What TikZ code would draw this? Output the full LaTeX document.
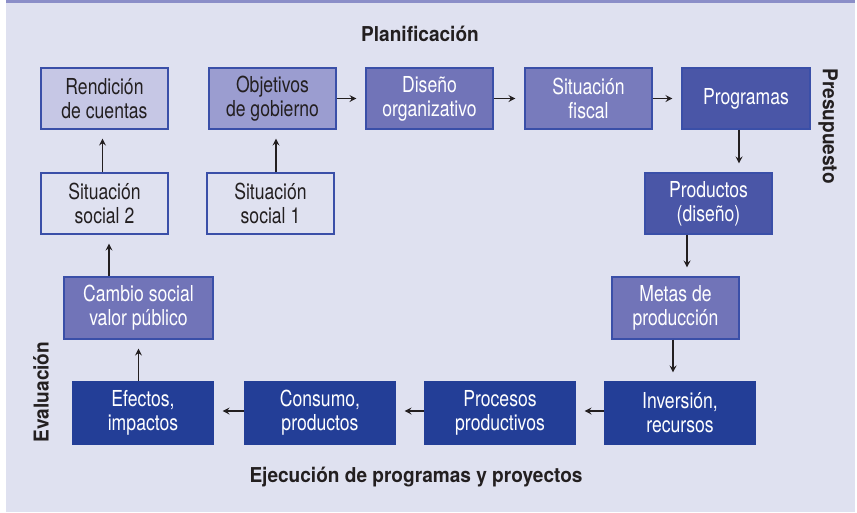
\documentclass[tikz,border=0pt]{standalone}
\usepackage{fontspec}
\setmainfont{TeX Gyre Heros}[FakeStretch=0.8]
\newfontfamily\rotulofont{TeX Gyre Heros}[FakeStretch=0.93]
\usetikzlibrary{arrows.meta}

\definecolor{fondo}{HTML}{DFE1F0}
\definecolor{barra}{HTML}{8B8EC8}
\definecolor{borde}{HTML}{3A4FA8}
\definecolor{linea}{HTML}{231F20}
\definecolor{azul1}{HTML}{C6C7E5}
\definecolor{azul2}{HTML}{9B9DD0}
\definecolor{azul3}{HTML}{7174B8}
\definecolor{azul4}{HTML}{4A56A7}
\definecolor{azul5}{HTML}{233E97}

\begin{document}
\begin{tikzpicture}[x=1pt, y=-1pt,
    caja/.style={draw=borde, line width=1.1pt, minimum width=127pt, minimum height=61pt,
      inner sep=0pt, align=center, font=\fontsize{22}{24}\selectfont},
    clara/.style={caja, text=linea},
    oscura/.style={caja, text=white},
    rotulo/.style={font=\rotulofont\fontsize{20.5}{23}\selectfont\bfseries, text=linea},
    flecha/.style={draw=linea, line width=1.1pt, shorten >=9pt,
      -{Stealth[length=7pt, width=7pt, inset=2.5pt]}}]

  \useasboundingbox (0,0) rectangle (857,512);
  \fill[fondo] (6,0) rectangle (855,512);
  \fill[barra] (6,0) rectangle (855,2.5);

  % Planificacion
  \node[clara, fill=azul1] (rend) at (104.5,98.5) {Rendición\\de cuentas};
  \node[clara, fill=azul2] (obj) at (272.5,98.5) {Objetivos\\de gobierno};
  \node[oscura, fill=azul3] (dis) at (429.5,98.5) {Diseño\\organizativo};
  \node[oscura, fill=azul3!95!white] (fis) at (588.5,98.5) {Situación\\fiscal};
  \node[oscura, fill=azul4, minimum width=128pt] (prog) at (746,98.5) {Programas};

  \node[clara, fill=fondo] (soc2) at (104.5,203.5) {Situación\\social 2};
  \node[clara, fill=fondo] (soc1) at (270.5,203.5) {Situación\\social 1};
  \node[oscura, fill=azul4] (prod) at (708.5,203.5) {Productos\\(diseño)};

  \node[oscura, fill=azul3, minimum width=149pt, minimum height=62pt] (cambio) at (138.5,308) {Cambio social\\valor público};
  \node[oscura, fill=azul3, minimum height=62pt] (metas) at (675.5,308) {Metas de\\producción};

  % Ejecucion
  \node[oscura, fill=azul5, draw=azul5, minimum width=140pt, minimum height=62pt] (efe) at (143,413) {Efectos,\\impactos};
  \node[oscura, fill=azul5, draw=azul5, minimum width=150pt, minimum height=62pt] (cons) at (320,413) {Consumo,\\productos};
  \node[oscura, fill=azul5, draw=azul5, minimum width=150pt, minimum height=62pt] (proc) at (500,413) {Procesos\\productivos};
  \node[oscura, fill=azul5, draw=azul5, minimum width=150pt, minimum height=62pt] (inv) at (680,413) {Inversión,\\recursos};

  % Rotulos
  \node[rotulo] (plan) at (420,34) {Planificación};
  \node[rotulo] (ejec) at (416,477) {Ejecución de programas y proyectos};
  \node[rotulo, rotate=-90] (pres) at (828,126) {Presupuesto};
  \node[rotulo, rotate=90] (eval) at (41,392) {Evaluación};

  % Flechas
  \draw[flecha] ([xshift=-2pt]soc2.north) -- ([xshift=-2pt]soc2.north |- rend.south);
  \draw[flecha] ([xshift=5.5pt]soc1.north) -- ([xshift=5.5pt]soc1.north |- obj.south);
  \draw[flecha] (obj.east) -- (dis.west);
  \draw[flecha] (dis.east) -- (fis.west);
  \draw[flecha] (fis.east) -- (prog.west);
  \draw[flecha] ([xshift=-7pt]prog.south) -- ([xshift=-7pt]prog.south |- prod.north);
  \draw[flecha] ([xshift=-21.5pt]prod.south) -- ([xshift=-21.5pt]prod.south |- metas.north);
  \draw[flecha] ([xshift=-2.5pt]metas.south) -- ([xshift=-2.5pt]metas.south |- inv.north);
  \draw[flecha] ([yshift=2pt]inv.west) -- ([yshift=2pt]proc.east);
  \draw[flecha] ([yshift=2pt]proc.west) -- ([yshift=2pt]cons.east);
  \draw[flecha] ([yshift=2pt]cons.west) -- ([yshift=2pt]efe.east);
  \draw[flecha] (efe.north -| cambio.south) -- (cambio.south);
  \draw[flecha] ([xshift=-29.5pt]cambio.north) -- ([xshift=-29.5pt]cambio.north |- soc2.south);

\end{tikzpicture}
\end{document}
